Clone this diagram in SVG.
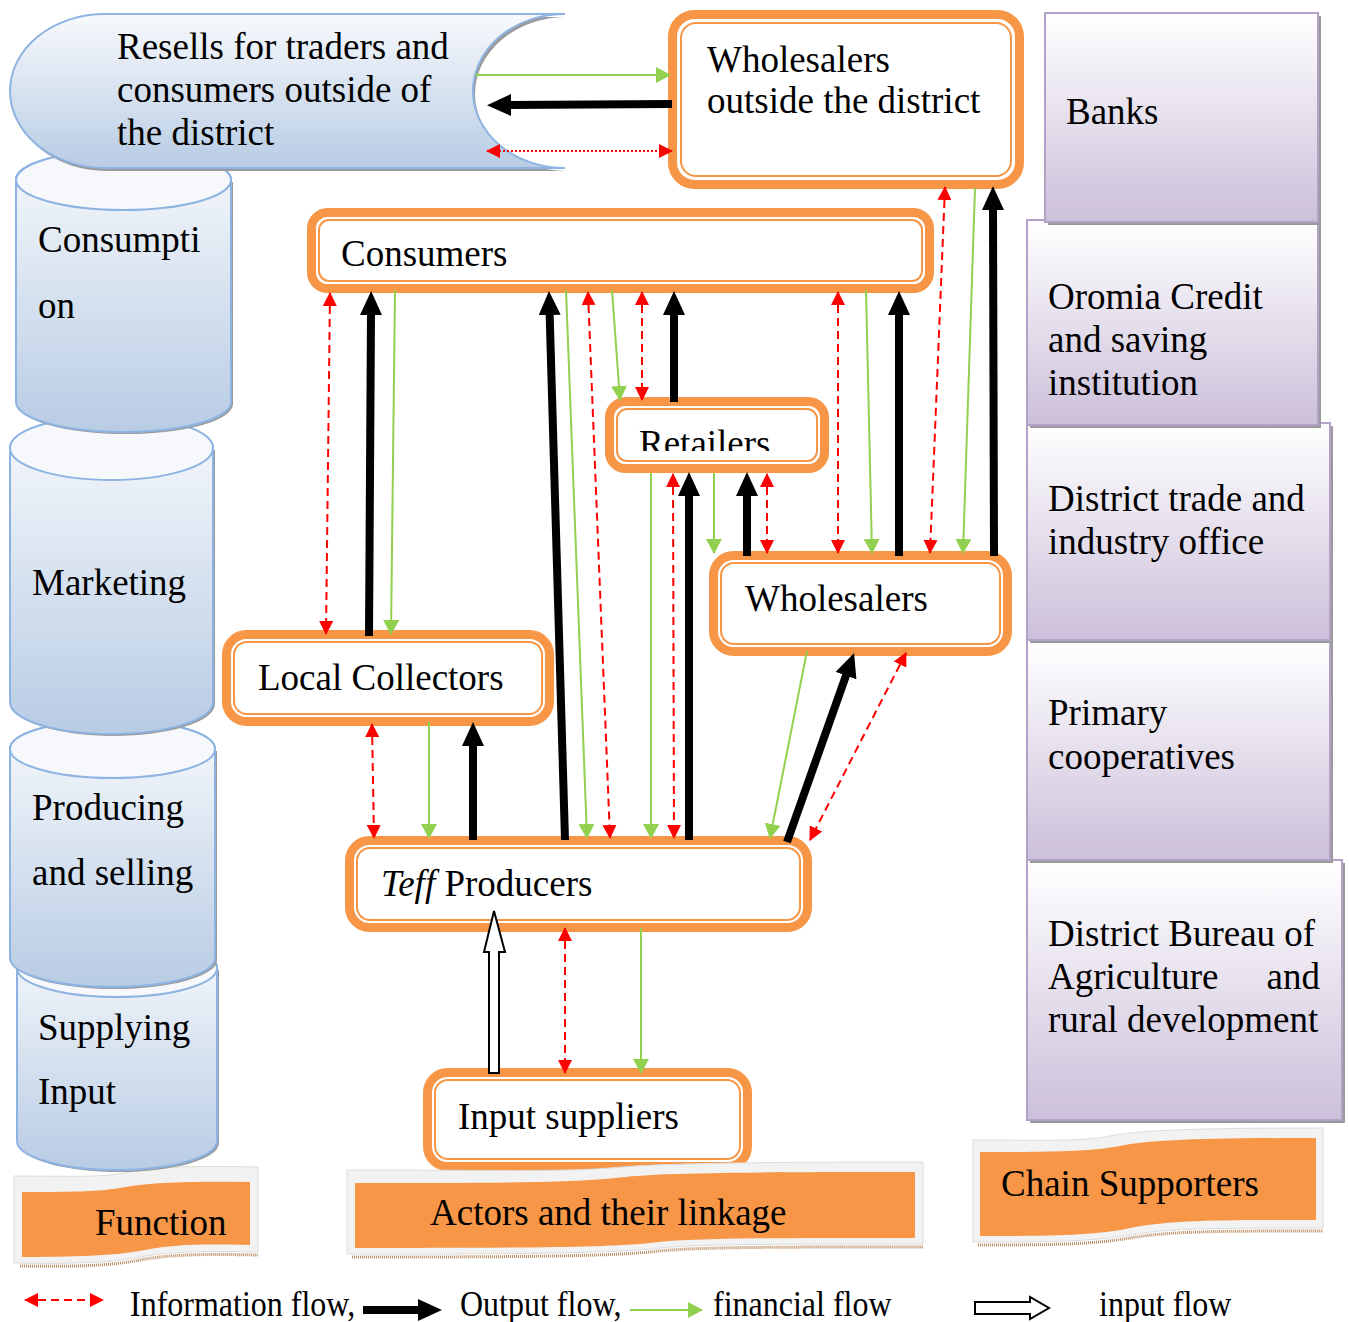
<svg xmlns="http://www.w3.org/2000/svg" width="1349" height="1322" viewBox="0 0 1349 1322">
<style>
.t{font-family:"Liberation Serif","Times New Roman",serif;font-size:37px;fill:#000}
.lg{font-family:"Liberation Serif","Times New Roman",serif;font-size:32px;fill:#000}
.no{fill:#fff;stroke:#f79646;stroke-width:9}
.ni{fill:none;stroke:#f79646;stroke-width:2}
.cyl{fill:url(#gBlue);stroke:#8db3e2;stroke-width:2}
.cylTop{fill:#f6f8fc;stroke:#8db3e2;stroke-width:2}
.shd{fill:#9a9a9a}
.pur{fill:url(#gPur);stroke:#b3a2c7;stroke-width:2}
.wOut{fill:#f2f2f2;stroke:#dcdcdc;stroke-width:1}
.wIn{fill:#f79646}
.wSh{fill:none;stroke:#b88a60;stroke-width:3;stroke-dasharray:1 1}
.red{fill:none;stroke:#ff0000;stroke-width:2;stroke-dasharray:8 5;marker-start:url(#ar);marker-end:url(#ar)}
.grn{fill:none;stroke:#92d050;stroke-width:2;marker-end:url(#ag)}
.blk{fill:none;stroke:#000;stroke-width:8;marker-end:url(#ab)}
</style>
<defs>
<linearGradient id="gBlue" x1="0" y1="0" x2="0" y2="1">
<stop offset="0" stop-color="#f7f9fc"/><stop offset="1" stop-color="#b8cce4"/>
</linearGradient>
<linearGradient id="gPur" x1="0" y1="0" x2="0" y2="1">
<stop offset="0" stop-color="#ffffff"/><stop offset="1" stop-color="#ccc0da"/>
</linearGradient>
<marker id="ar" viewBox="0 0 14 14" refX="13" refY="7" markerWidth="14" markerHeight="14" markerUnits="userSpaceOnUse" orient="auto-start-reverse"><path d="M0,0 L14,7 L0,14 z" fill="#ff0000"/></marker>
<marker id="ag" viewBox="0 0 15 16" refX="14" refY="8" markerWidth="15" markerHeight="16" markerUnits="userSpaceOnUse" orient="auto"><path d="M0,0 L15,8 L0,16 z" fill="#92d050"/></marker>
<marker id="ab" viewBox="0 0 24 22" refX="2" refY="11" markerWidth="24" markerHeight="22" markerUnits="userSpaceOnUse" orient="auto"><path d="M0,0 L24,11 L0,22 z" fill="#000"/></marker>
<clipPath id="clipRet"><rect x="617" y="409" width="200" height="42"/></clipPath>
</defs>

<!-- Function banner -->
<g id="banner-function">
<path class="wOut" d="M14,1176 C70,1176 100,1178 130,1172 C160,1166 200,1166 258,1167 L258,1252 C210,1251 170,1251 140,1257 C110,1263 70,1264 14,1263 Z"/>
<path class="wSh" d="M20,1266 C70,1267 110,1266 140,1260 C170,1254 210,1254 258,1255"/>
<path class="wIn" d="M22,1192 C70,1192 100,1192 125,1187 C150,1182 200,1181 250,1182 L250,1245 C205,1244 175,1244 145,1250 C115,1256 70,1257 22,1257 Z"/>
<text class="t" x="95" y="1235">Function</text>
</g>

<!-- Cylinders -->
<g id="cyl-supplying">
<path class="shd" d="M19,970 L19,1143 A100,29 0 0 0 219,1143 L219,970 Z"/>
<path class="cyl" d="M17,968 L17,1141 A100,29 0 0 0 217,1141 L217,968 A100,29 0 0 0 17,968 Z"/>
<ellipse class="cylTop" cx="117" cy="968" rx="100" ry="29"/>
<text class="t" x="38" y="1040">Supplying</text>
<text class="t" x="38" y="1104">Input</text>
</g>
<g id="cyl-producing">
<path class="shd" d="M12,751 L12,960 A102.5,29 0 0 0 217,960 L217,751 Z"/>
<path class="cyl" d="M10,749 L10,958 A102.5,29 0 0 0 215,958 L215,749 A102.5,29 0 0 0 10,749 Z"/>
<ellipse class="cylTop" cx="112.5" cy="749" rx="102.5" ry="29"/>
<text class="t" x="32" y="820">Producing</text>
<text class="t" x="32" y="885">and selling</text>
</g>
<g id="cyl-marketing">
<path class="shd" d="M12,450 L12,704 A101.5,32 0 0 0 215,704 L215,450 Z"/>
<path class="cyl" d="M10,448 L10,702 A101.5,32 0 0 0 213,702 L213,448 A101.5,32 0 0 0 10,448 Z"/>
<ellipse class="cylTop" cx="111.5" cy="448" rx="101.5" ry="32"/>
<text class="t" x="32" y="595">Marketing</text>
</g>
<g id="cyl-consumption">
<path class="shd" d="M18,182 L18,404 A107.5,30 0 0 0 233,404 L233,182 Z"/>
<path class="cyl" d="M16,180 L16,402 A107.5,30 0 0 0 231,402 L231,180 A107.5,30 0 0 0 16,180 Z"/>
<ellipse class="cylTop" cx="123.5" cy="180" rx="107.5" ry="30"/>
<text class="t" x="38" y="252">Consumpti</text>
<text class="t" x="38" y="318">on</text>
</g>

<!-- Top-left banner -->
<g id="resells">
<path class="shd" d="M107,17 L567,17 A92,77 0 0 0 567,171 L107,171 A95,77 0 0 1 107,17 Z"/>
<path class="cyl" d="M105,14 L565,14 A92,77 0 0 0 565,168 L105,168 A95,77 0 0 1 105,14 Z"/>
<text class="t" x="117" y="59">Resells for traders and</text>
<text class="t" x="117" y="102">consumers outside of</text>
<text class="t" x="117" y="145">the district</text>
</g>

<!-- Chain supporters (right) -->
<g id="bureau">
<rect class="shd" x="1030" y="863" width="315" height="260"/>
<rect class="pur" x="1027" y="860" width="315" height="260"/>
<text class="t" x="1048" y="946">District Bureau of</text>
<text class="t" x="1048" y="989">Agriculture</text>
<text class="t" x="1320" y="989" text-anchor="end">and</text>
<text class="t" x="1048" y="1032">rural development</text>
</g>
<g id="primary">
<rect class="shd" x="1030" y="643" width="303" height="220"/>
<rect class="pur" x="1027" y="640" width="303" height="220"/>
<text class="t" x="1048" y="725">Primary</text>
<text class="t" x="1048" y="769">cooperatives</text>
</g>
<g id="trade">
<rect class="shd" x="1030" y="426" width="303" height="217"/>
<rect class="pur" x="1027" y="423" width="303" height="217"/>
<text class="t" x="1048" y="511">District trade and</text>
<text class="t" x="1048" y="554">industry office</text>
</g>
<g id="oromia">
<rect class="shd" x="1030" y="223" width="291" height="205"/>
<rect class="pur" x="1027" y="220" width="291" height="205"/>
<text class="t" x="1048" y="309">Oromia Credit</text>
<text class="t" x="1048" y="352">and saving</text>
<text class="t" x="1048" y="395">institution</text>
</g>
<g id="banks">
<rect class="shd" x="1048" y="16" width="273" height="209"/>
<rect class="pur" x="1045" y="13" width="273" height="209"/>
<text class="t" x="1066" y="124">Banks</text>
</g>

<!-- Actor nodes -->
<g id="wholesalers-outside">
<rect class="no" x="672.5" y="14.5" width="347" height="170" rx="22"/>
<rect class="ni" x="681" y="23" width="330" height="153" rx="15"/>
<text class="t" x="707" y="72">Wholesalers</text>
<text class="t" x="707" y="113">outside the district</text>
</g>
<g id="consumers">
<rect class="no" x="311.5" y="212.5" width="618" height="76" rx="16"/>
<rect class="ni" x="319" y="220" width="603" height="61" rx="10"/>
<text class="t" x="341" y="266">Consumers</text>
</g>
<g id="retailers">
<rect class="no" x="609.5" y="401.5" width="215" height="67" rx="16"/>
<rect class="ni" x="617" y="409" width="200" height="52" rx="10"/>
<text class="t" x="639" y="456" clip-path="url(#clipRet)">Retailers</text>
</g>
<g id="wholesalers">
<rect class="no" x="713.5" y="555.5" width="294" height="96" rx="20"/>
<rect class="ni" x="721" y="563" width="279" height="81" rx="13"/>
<text class="t" x="745" y="611">Wholesalers</text>
</g>
<g id="local-collectors">
<rect class="no" x="226.5" y="634.5" width="323" height="87" rx="20"/>
<rect class="ni" x="234" y="642" width="308" height="72" rx="13"/>
<text class="t" x="258" y="690">Local Collectors</text>
</g>
<g id="teff-producers">
<rect class="no" x="349.5" y="840.5" width="458" height="87" rx="20"/>
<rect class="ni" x="357" y="848" width="443" height="72" rx="13"/>
<text class="t" x="381" y="896"><tspan font-style="italic">Teff</tspan> Producers</text>
</g>
<g id="input-suppliers">
<rect class="no" x="427.5" y="1072.5" width="320" height="94" rx="20"/>
<rect class="ni" x="435" y="1080" width="305" height="79" rx="13"/>
<text class="t" x="458" y="1129">Input suppliers</text>
</g>

<!-- Actors banner -->
<g id="banner-actors">
<path class="wOut" d="M347,1170 C480,1170 560,1172 610,1168 C650,1164 720,1162 923,1162 L923,1244 C760,1244 690,1244 650,1249 C600,1254 480,1254 347,1254 Z"/>
<path class="wSh" d="M352,1257 C480,1257 600,1257 650,1252 C690,1247 760,1247 923,1247"/>
<path class="wIn" d="M355,1183 C480,1183 570,1183 615,1178 C655,1173 720,1172 915,1172 L915,1238 C760,1238 690,1238 650,1243 C605,1248 480,1248 355,1248 Z"/>
<text class="t" x="430" y="1225">Actors and their linkage</text>
</g>

<!-- Chain supporters banner -->
<g id="banner-chain">
<path class="wOut" d="M973,1140 C1040,1140 1080,1142 1110,1136 C1140,1130 1200,1128 1323,1128 L1323,1228 C1220,1228 1170,1228 1130,1235 C1090,1242 1040,1242 973,1242 Z"/>
<path class="wSh" d="M978,1245 C1040,1245 1090,1245 1130,1238 C1170,1231 1220,1231 1323,1231"/>
<path class="wIn" d="M980,1152 C1040,1152 1090,1152 1120,1146 C1150,1140 1200,1138 1316,1138 L1316,1220 C1220,1220 1170,1220 1130,1228 C1095,1236 1040,1236 980,1236 Z"/>
<text class="t" x="1001" y="1196">Chain Supporters</text>
</g>

<!-- Connectors -->
<g id="connectors">
<line class="grn" x1="475" y1="75" x2="670" y2="75"/>
<line class="blk" x1="672" y1="104" x2="509" y2="105"/>
<line fill="none" stroke="#ff0000" stroke-width="2" stroke-dasharray="2 2" marker-start="url(#ar)" marker-end="url(#ar)" x1="487" y1="151" x2="672" y2="151"/>

<line class="red" x1="330" y1="293" x2="326" y2="634"/>
<line class="blk" x1="369" y1="636" x2="371" y2="313"/>
<line class="grn" x1="395" y1="290" x2="391" y2="634"/>
<line class="blk" x1="565" y1="840" x2="549.6" y2="313"/>
<line class="grn" x1="566" y1="290" x2="587" y2="838"/>
<line class="red" x1="588" y1="292" x2="610" y2="838"/>
<line class="grn" x1="612" y1="290" x2="620" y2="400"/>
<line class="red" x1="642" y1="292" x2="642" y2="400"/>
<line class="blk" x1="674" y1="402" x2="674" y2="313"/>
<line class="red" x1="838" y1="292" x2="838" y2="553"/>
<line class="grn" x1="866" y1="290" x2="872" y2="553"/>
<line class="blk" x1="899" y1="556" x2="899" y2="313"/>

<line class="red" x1="945" y1="187" x2="930" y2="553"/>
<line class="grn" x1="975" y1="188" x2="963" y2="553"/>
<line class="blk" x1="994" y1="556" x2="993" y2="208"/>

<line class="grn" x1="651" y1="473" x2="651" y2="838"/>
<line class="red" x1="673" y1="474" x2="674" y2="838"/>
<line class="blk" x1="689" y1="840" x2="689" y2="494"/>
<line class="grn" x1="714" y1="473" x2="714" y2="553"/>
<line class="blk" x1="747" y1="556" x2="747" y2="494"/>
<line class="red" x1="767" y1="474" x2="767" y2="553"/>

<line class="grn" x1="807" y1="651" x2="770" y2="838"/>
<line class="blk" x1="787" y1="842" x2="846.7" y2="673.7"/>
<line class="red" x1="906" y1="653" x2="810" y2="840"/>

<line class="red" x1="372" y1="724" x2="374" y2="838"/>
<line class="grn" x1="429" y1="722" x2="429" y2="838"/>
<line class="blk" x1="473" y1="840" x2="473" y2="744"/>

<path d="M489,1073 L489,952 L484,952 L494,911 L505,952 L499,952 L499,1073 Z" fill="#fff" stroke="#000" stroke-width="2"/>
<line class="red" x1="565" y1="928" x2="565" y2="1073"/>
<line class="grn" x1="641" y1="928" x2="641" y2="1073"/>
</g>

<!-- Legend -->
<g id="legend">
<line class="red" x1="25" y1="1300" x2="103" y2="1300"/>
<text class="lg" transform="translate(130 1316) scale(1 1.1)">Information flow,</text>
<line class="blk" x1="363" y1="1310" x2="420" y2="1310"/>
<text class="lg" transform="translate(460 1316) scale(1 1.1)">Output flow,</text>
<line class="grn" x1="630" y1="1310" x2="702" y2="1310"/>
<text class="lg" transform="translate(713 1316) scale(1 1.1)">financial flow</text>
<path d="M975,1302 L1030,1302 L1030,1297 L1049,1308 L1030,1319 L1030,1314 L975,1314 Z" fill="#fff" stroke="#000" stroke-width="2"/>
<text class="lg" transform="translate(1099 1316) scale(1 1.1)">input flow</text>
</g>
</svg>
